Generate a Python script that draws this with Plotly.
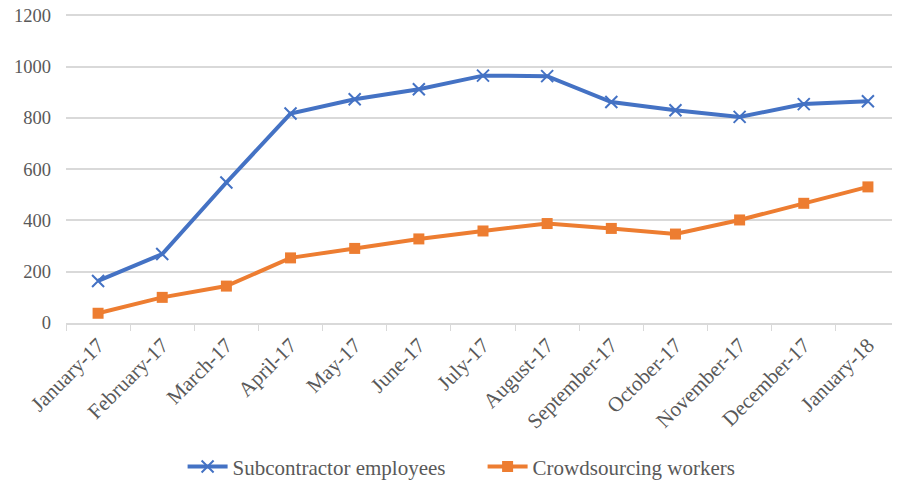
import plotly.graph_objects as go

months = ["January-17", "February-17", "March-17", "April-17", "May-17", "June-17",
          "July-17", "August-17", "September-17", "October-17", "November-17",
          "December-17", "January-18"]
subcontractor = [164, 269, 548, 817, 873, 912, 965, 963, 862, 830, 804, 854, 865]
crowdsourcing = [38, 100, 144, 254, 291, 328, 359, 388, 369, 347, 402, 467, 531]
y_ticks = [0, 200, 400, 600, 800, 1000, 1200]

FONT = "Liberation Serif"
GREY = "#595959"

fig = go.Figure()
fig.add_trace(go.Scatter(
    x=months, y=subcontractor, name="Subcontractor employees",
    mode="lines+markers",
    line=dict(color="#4472C4", width=4),
    marker=dict(symbol="x-thin", size=12, color="#4472C4",
                line=dict(color="#4472C4", width=2)),
))
fig.add_trace(go.Scatter(
    x=months, y=crowdsourcing, name="Crowdsourcing workers",
    mode="lines+markers",
    line=dict(color="#ED7D31", width=4),
    marker=dict(symbol="square", size=11, color="#ED7D31"),
))

fig.update_layout(
    width=900, height=481,
    margin=dict(l=58, r=8, t=1, b=166, autoexpand=False),
    paper_bgcolor="white", plot_bgcolor="white",
    font=dict(family=FONT, color=GREY, size=19),
    showlegend=True,
    legend=dict(orientation="h", x=0.194, xref="container", xanchor="left",
                y=0.046, yref="container", yanchor="middle",
                font=dict(family=FONT, size=21, color=GREY),
                itemwidth=40, entrywidth=245, entrywidthmode="pixels"),
)
fig.update_xaxes(
    type="category", range=[-0.5, len(months) - 0.5],
    tickangle=-45, tickson="boundaries",
    ticks="outside", ticklen=6, tickcolor="#d9d9d9",
    showline=True, linecolor="#d9d9d9", linewidth=1.5,
    showgrid=False, automargin=False,
    tickfont=dict(family=FONT, size=21, color=GREY),
)
fig.update_yaxes(
    range=[0, 1225], tickvals=y_ticks,
    showgrid=True, gridcolor="#d9d9d9", gridwidth=1.5,
    zeroline=False, showline=False, ticks="", automargin=False,
    ticklabelstandoff=14, ticklabeloverflow="allow",
    tickfont=dict(family=FONT, size=18.5, color=GREY),
)

fig.write_html("out.html")
